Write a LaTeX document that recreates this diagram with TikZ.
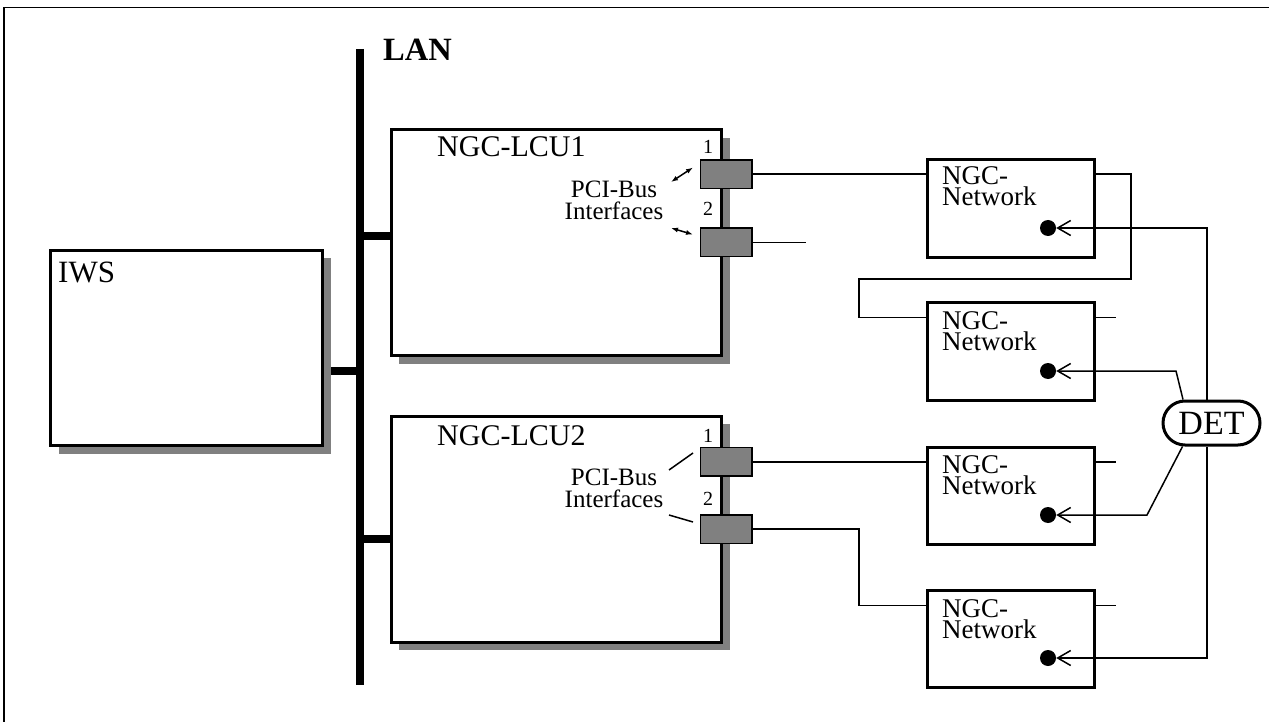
\documentclass[tikz,border=0pt]{standalone}
\usepackage{fontspec}
\setmainfont{Liberation Serif}
\usetikzlibrary{arrows.meta,shadows,backgrounds}
\definecolor{sgray}{HTML}{808080}
\tikzset{
 outerframe/.style={line width=1.5pt},
 bigbox/.style={draw, line width=3pt, fill=white, inner sep=0pt,
   drop shadow={fill=sgray, opacity=1, shadow xshift=8pt, shadow yshift=-8pt}},
 netbox/.style={draw, line width=3pt, fill=white, inner sep=0pt, minimum width=166.7pt, minimum height=97.5pt},
 portbox/.style={draw, line width=1.5pt, fill=sgray, inner sep=0pt, minimum width=51.5pt, minimum height=28.5pt},
 blackdot/.style={circle, fill=black, inner sep=0pt, minimum size=16pt},
 conn/.style={line width=1.5pt},
 busline/.style={line width=8pt},
 detarrow/.style={conn, -{Straight Barb[length=13pt,width=15pt,line width=1.5pt]}},
 pci/.style={line width=1.5pt, {Latex[length=7pt,width=5pt]}-{Latex[length=7pt,width=5pt]}},
 lbl/.style={inner sep=0pt, anchor=base west},
 bigfont/.style={font=\fontsize{30}{36}\selectfont},
 nettext/.style={inner sep=0pt, anchor=base west, font=\fontsize{27}{30}\selectfont},
 pcitext/.style={inner sep=0pt, anchor=base, font=\fontsize{25}{28}\selectfont},
 digit/.style={inner sep=0pt, anchor=base, font=\fontsize{20}{22}\selectfont},
 detbox/.style={draw, line width=3pt, rounded corners=22pt, minimum width=97pt, minimum height=44pt, inner sep=0pt, font=\fontsize{34}{38}\selectfont},
}
\begin{document}
\begin{tikzpicture}[x=1pt,y=-1pt]
\useasboundingbox (0,0) rectangle (1269,722);
\draw[outerframe] (4,730) -- (4,7.3) -- (1275,7.3);

% LAN bus
\coordinate (bt) at (360,49);
\coordinate (bb) at (360,685);
\coordinate (b0) at (360,371);
\coordinate (b1) at (360,236);
\coordinate (b2) at (360,539);
\draw[busline] (bt) -- (bb);
\node[lbl, font=\bfseries\fontsize{32.5}{36}\selectfont] (lan) at (383,61) {LAN};

% big boxes
\node[bigbox, minimum width=272.2pt, minimum height=195.5pt] (iws) at (186.6,348.2) {};
\node[lbl, font=\fontsize{31}{36}\selectfont] (iwst) at (58,282) {IWS};
\node[bigbox, minimum width=330.7pt, minimum height=226pt] (lcu1) at (556.6,242.7) {};
\node[bigbox, minimum width=330.7pt, minimum height=226pt] (lcu2) at (556.6,529.3) {};
\node[lbl, bigfont] (lcu1t) at (437,157) {NGC-LCU1};
\node[lbl, bigfont] (lcu2t) at (437,445) {NGC-LCU2};

\begin{scope}[on background layer]
\draw[busline] (b0 -| iws.east) -- (b0);
\draw[busline] (b1) -- (b1 -| lcu1.west);
\draw[busline] (b2) -- (b2 -| lcu2.west);
\end{scope}

% ports
\node[portbox] (p11) at (726.3,174.2) {};
\node[portbox] (p12) at (726.3,242.3) {};
\node[portbox] (p21) at (726.3,461.8) {};
\node[portbox] (p22) at (726.3,529.2) {};
\node[digit] (d11) at (708,154) {1};
\node[digit] (d12) at (708,215) {2};
\node[digit] (d21) at (708,442) {1};
\node[digit] (d22) at (708,505) {2};

\node[pcitext] (pci1a) at (614,198) {PCI-Bus};
\node[pcitext] (pci1b) at (614,220) {Interfaces};
\node[pcitext] (pci2a) at (614,485) {PCI-Bus};
\node[pcitext] (pci2b) at (614,507) {Interfaces};
\coordinate (a1s) at (671,182); \coordinate (a1e) at (693,167.5);
\coordinate (a2s) at (671,228); \coordinate (a2e) at (693,234.5);
\draw[pci] (a1s) -- (a1e);
\draw[pci] (a2s) -- (a2e);
\coordinate (c1s) at (669,470); \coordinate (c1e) at (693,453);
\coordinate (c2s) at (669,515); \coordinate (c2e) at (693,522);
\draw[conn] (c1s) -- (c1e);
\draw[conn] (c2s) -- (c2e);

% network boxes
\node[netbox] (n1) at (1010.7,208.5) {};
\node[netbox] (n2) at (1010.7,351.5) {};
\node[netbox] (n3) at (1010.7,496) {};
\node[netbox] (n4) at (1010.7,639.2) {};
\node[nettext] (n1a) at (942,185) {NGC-};
\node[nettext] (n1b) at (942,206) {Network};
\node[nettext] (n2a) at (942,329) {NGC-};
\node[nettext] (n2b) at (942,350) {Network};
\node[nettext] (n3a) at (942,473) {NGC-};
\node[nettext] (n3b) at (942,494) {Network};
\node[nettext] (n4a) at (942,617) {NGC-};
\node[nettext] (n4b) at (942,638) {Network};
\node[blackdot] (e1) at (1048,228) {};
\node[blackdot] (e2) at (1048,371) {};
\node[blackdot] (e3) at (1048,515) {};
\node[blackdot] (e4) at (1048,658) {};

% connections
\coordinate (in2) at (927,317.5);
\coordinate (in4) at (927,605.5);
\coordinate (r1) at (1131,174.2);
\coordinate (l2) at (859,279);
\coordinate (l4) at (859,529.2);
\coordinate (s0) at (806,242.3);
\coordinate (s2) at (1116,317.5);
\coordinate (s3) at (1116,461.8);
\coordinate (s4) at (1116,605.5);
\draw[conn] (p11.east) -- (p11 -| n1.west);
\draw[conn] (p11 -| n1.east) -- (r1) |- (l2) |- (in2 -| n2.west);
\draw[conn] (in2 -| n2.east) -- (s2);
\draw[conn] (p12.east) -- (s0);
\draw[conn] (p21.east) -- (p21 -| n3.west);
\draw[conn] (p21 -| n3.east) -- (s3);
\draw[conn] (p22.east) -- (l4) |- (in4 -| n4.west);
\draw[conn] (in4 -| n4.east) -- (s4);

% DET
\node[detbox] (det) at (1211.5,423) {DET};
\coordinate (k2) at (1176,371);
\coordinate (k3) at (1147,515);
\draw[detarrow] ([xshift=-4.5pt]det.north) |- (e1.east);
\draw[detarrow] ([xshift=-28.5pt]det.north) -- (k2) -- (e2.east);
\draw[detarrow] ([xshift=-29pt]det.south) -- (k3) -- (e3.east);
\draw[detarrow] ([xshift=-4.5pt]det.south) |- (e4.east);
\end{tikzpicture}
\end{document}
